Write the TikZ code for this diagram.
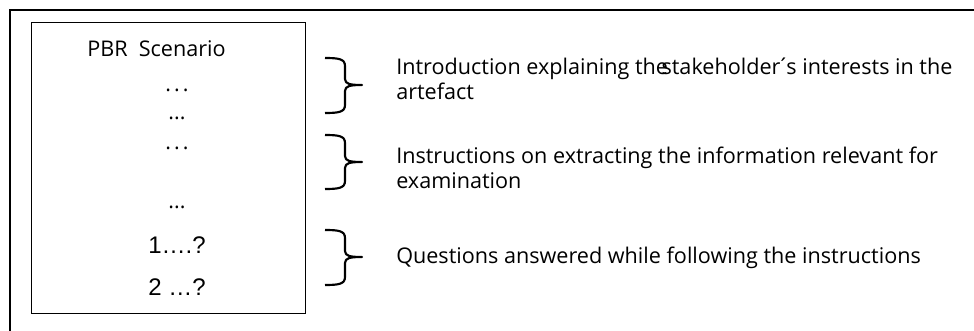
\documentclass[tikz,border=0pt]{standalone}
\usepackage{fontspec}
\newfontfamily\segoe{Open Sans}
\newfontfamily\arialf{Liberation Sans}
\newcommand\mybrace[3]{%
  \draw[bracestyle] (325,#1) .. controls (339,#1) and (345,#1+1) .. (345,#1+8)
    -- (345,#2-6) .. controls (345,#2-1) and (350,#2) .. (362,#2)
    .. controls (350,#2) and (345,#2+1) .. (345,#2+6)
    -- (345,#3-8) .. controls (345,#3-1) and (339,#3) .. (325,#3);}
\newcommand\wdots{.\kern0.14em.\kern0.14em.}
\begin{document}
\begin{tikzpicture}[x=0.75pt,y=-0.75pt,
  boxline/.style={draw=black,line width=1.1pt},
  bracestyle/.style={draw=black,line width=1.6pt,line join=round},
  seg/.style={font=\segoe\fontsize{16.2}{19}\selectfont,inner sep=0pt,anchor=base west},
  dots/.style={font=\segoe\fontsize{16}{19}\selectfont,inner sep=0pt,anchor=base},
  ari/.style={font=\arialf\fontsize{18}{21}\selectfont,inner sep=0pt,anchor=base west}]
\useasboundingbox (0,0) rectangle (974,331);
\fill[white] (0,0) rectangle (974,331);
\begin{scope}
\clip (0,0) rectangle (974,331);
\draw[boxline] (10,10) rectangle (990,345);
\end{scope}
\node[boxline,minimum width=274*0.75pt,minimum height=291*0.75pt,anchor=north west] (box) at (31,22) {};
\node[seg,anchor=base west] (title) at (87,57) {PBR\ \ Scenario};
\node[dots] (d1) at (177,92) {\wdots};
\node[dots] (d2) at (177,120) {...};
\node[dots] (d3) at (177,150) {\wdots};
\node[dots] (d4) at (177,209) {...};
\node[ari] (q1) at (148,253) {1….?};
\node[ari] (q2) at (148,296) {2 …?};
\mybrace{58}{85}{113}
\mybrace{135}{162}{189}
\mybrace{230}{257}{285}
\node[seg] (t1a) at (396,75) {Introduction explaining the\kern-0.3em stakeholder\kern-0.15em´\kern-0.15em s interests in the};
\node[seg] (t1b) at (396,100) {artefact};
\node[seg] (t2a) at (396,164) {Instructions on extracting the information relevant for};
\node[seg] (t2b) at (396,189) {examination};
\node[seg] (t3) at (396,264) {Questions answered while following the instructions};
\end{tikzpicture}
\end{document}
